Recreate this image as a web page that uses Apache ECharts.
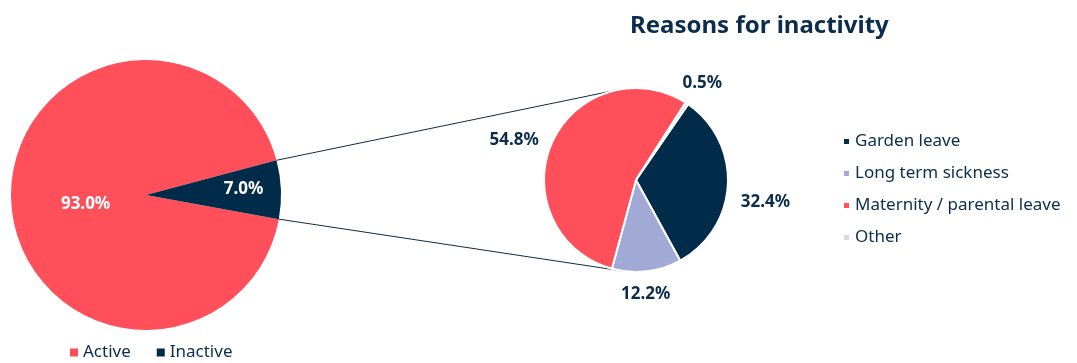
<!DOCTYPE html>
<html>
<head>
<meta charset="utf-8">
<script src="https://cdn.jsdelivr.net/npm/echarts@6/dist/echarts.min.js"></script>
<style>
html, body { margin: 0; padding: 0; background: #fff; }
#chart { width: 1077px; height: 363px; }
</style>
</head>
<body>
<div id="chart"></div>
<script>
var statusNames = ['Active', 'Inactive'];
var statusValues = [93.0, 7.0];
var reasonNames = ['Garden leave', 'Long term sickness', 'Maternity / parental leave', 'Other'];
var reasonValues = [32.4, 12.2, 54.8, 0.5];

(function(){
    var navy = '#0b2d4b';
    var statusColors = ['#ff4f5a', '#002b49'];
    var reasonColors = ['#002b49', '#a0aad4', '#ff4f5a', '#d9d9d9'];
    var font = 'Noto Sans';

    var leftCenter = [146, 195], leftR = 135, leftStart = 349.7;
    var rightCenter = [636, 180], rightR = 92, rightStart = 55.5;

    function pct(v){ return v.toFixed(1) + '%'; }

    // corners of the Inactive slice
    var total = statusValues.reduce(function(a, b){ return a + b; }, 0);
    var aStart = leftStart - 360 * statusValues[0] / total;
    var aEnd = aStart - 360 * statusValues[1] / total;
    function onCircle(c, r, deg){
        var a = deg * Math.PI / 180;
        return [c[0] + r * Math.cos(a), c[1] - r * Math.sin(a)];
    }
    function tangent(p, c, r, upper){
        var dx = p[0] - c[0], dy = p[1] - c[1];
        var d = Math.sqrt(dx * dx + dy * dy);
        var base = Math.atan2(dy, dx), off = Math.acos(r / d);
        var t1 = [c[0] + r * Math.cos(base + off), c[1] + r * Math.sin(base + off)];
        var t2 = [c[0] + r * Math.cos(base - off), c[1] + r * Math.sin(base - off)];
        if (upper) return t1[1] < t2[1] ? t1 : t2;
        return t1[1] > t2[1] ? t1 : t2;
    }
    var pTop = onCircle(leftCenter, leftR, aStart);
    var pBot = onCircle(leftCenter, leftR, aEnd);
    var tTop = tangent(pTop, rightCenter, rightR, true);
    var tBot = tangent(pBot, rightCenter, rightR, false);

    var option = {
        animation: false,
        textStyle: { fontFamily: font },
        title: {
            text: 'Reasons for inactivity',
            left: 625,
            top: 9,
            textStyle: { color: navy, fontSize: 24, fontWeight: 'bold', fontFamily: font }
        },
        legend: [{
            data: statusNames,
            left: 65,
            top: 339,
            icon: 'rect',
            itemWidth: 8,
            itemHeight: 8,
            itemGap: 26,
            textStyle: { color: navy, fontSize: 17, fontFamily: font }
        }, {
            data: reasonNames,
            orient: 'vertical',
            left: 837,
            top: 128,
            icon: 'rect',
            itemWidth: 7,
            itemHeight: 7,
            itemGap: 15,
            textStyle: { color: navy, fontSize: 17, fontFamily: font }
        }],
        graphic: [{
            type: 'line',
            shape: { x1: pTop[0], y1: pTop[1], x2: tTop[0], y2: tTop[1] },
            style: { stroke: navy, lineWidth: 1 }
        }, {
            type: 'line',
            shape: { x1: pBot[0], y1: pBot[1], x2: tBot[0], y2: tBot[1] },
            style: { stroke: navy, lineWidth: 1 }
        }],
        series: [{
            type: 'pie',
            center: leftCenter,
            radius: leftR,
            startAngle: leftStart,
            silent: true,
            avoidLabelOverlap: false,
            color: statusColors,
            label: {
                show: true,
                position: 'inside',
                color: '#fff',
                fontSize: 17,
                fontWeight: 'bold',
                fontFamily: font,
                formatter: function(p){ return pct(p.value); }
            },
            labelLayout: function(p){
                var nudge = [[10, 6], [27, -3]][p.dataIndex];
                return { dx: nudge[0], dy: nudge[1] };
            },
            data: statusNames.map(function(n, i){ return { name: n, value: statusValues[i] }; })
        }, {
            type: 'pie',
            center: rightCenter,
            radius: rightR,
            startAngle: rightStart,
            silent: true,
            avoidLabelOverlap: false,
            color: reasonColors,
            itemStyle: { borderColor: '#fff', borderWidth: 2 },
            label: {
                show: true,
                position: 'outside',
                color: navy,
                fontSize: 17,
                fontWeight: 'bold',
                fontFamily: font,
                distanceToLabelLine: 3,
                formatter: function(p){ return pct(p.value); }
            },
            labelLine: { show: false, length: 10, length2: 0 },
            labelLayout: function(p){
                var nudge = [[0, 17], [-30, 13], [-1, 2], [-13, -12]][p.dataIndex];
                return { dx: nudge[0], dy: nudge[1] };
            },
            data: reasonNames.map(function(n, i){ return { name: n, value: reasonValues[i] }; })
        }]
    };
    var chart = echarts.init(document.getElementById('chart'));
    chart.setOption(option);
})();
</script>
</body>
</html>
